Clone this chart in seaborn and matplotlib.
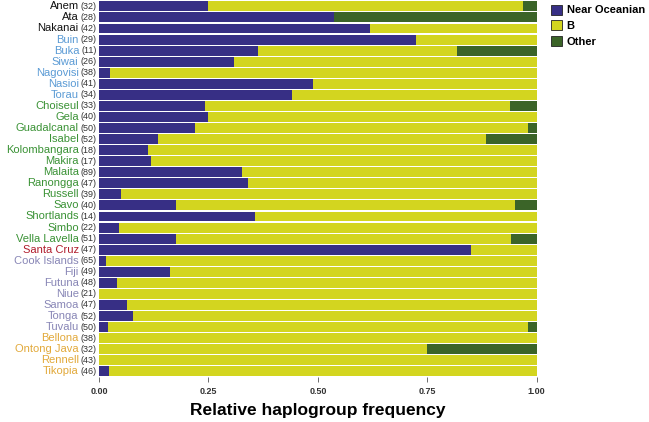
import pandas as pd
import matplotlib.pyplot as plt
from matplotlib.patches import Patch
import seaborn as sns

# populations, top to bottom
populations = ["Anem", "Ata", "Nakanai", "Buin", "Buka", "Siwai", "Nagovisi", "Nasioi",
               "Torau", "Choiseul", "Gela", "Guadalcanal", "Isabel", "Kolombangara",
               "Makira", "Malaita", "Ranongga", "Russell", "Savo", "Shortlands", "Simbo",
               "Vella Lavella", "Santa Cruz", "Cook Islands", "Fiji", "Futuna", "Niue",
               "Samoa", "Tonga", "Tuvalu", "Bellona", "Ontong Java", "Rennell", "Tikopia"]
sample_sizes = [32, 28, 42, 29, 11, 26, 38, 41, 34, 33, 40, 50, 52, 18, 17, 89, 47, 39,
                40, 14, 22, 51, 47, 65, 49, 48, 21, 47, 52, 50, 38, 32, 43, 46]
regions = ["NB", "NB", "NB", "BG", "BG", "BG", "BG", "BG", "BG",
           "SI", "SI", "SI", "SI", "SI", "SI", "SI", "SI", "SI", "SI", "SI", "SI", "SI",
           "SC", "PO", "PO", "PO", "PO", "PO", "PO", "PO", "OL", "OL", "OL", "OL"]

near_oceanian = [0.250, 0.536, 0.619, 0.724, 0.364, 0.308, 0.026, 0.488, 0.441, 0.242,
                 0.250, 0.220, 0.135, 0.111, 0.118, 0.326, 0.340, 0.051, 0.175, 0.357,
                 0.045, 0.176, 0.851, 0.015, 0.163, 0.042, 0.000, 0.064, 0.077, 0.020,
                 0.000, 0.000, 0.000, 0.022]
hg_b = [0.719, 0.000, 0.381, 0.276, 0.454, 0.692, 0.974, 0.512, 0.559, 0.697,
        0.750, 0.760, 0.750, 0.889, 0.882, 0.674, 0.660, 0.949, 0.775, 0.643,
        0.955, 0.765, 0.149, 0.985, 0.837, 0.958, 1.000, 0.936, 0.923, 0.960,
        1.000, 0.750, 1.000, 0.978]
other = [0.031, 0.464, 0.000, 0.000, 0.182, 0.000, 0.000, 0.000, 0.000, 0.061,
         0.000, 0.020, 0.115, 0.000, 0.000, 0.000, 0.000, 0.000, 0.050, 0.000,
         0.000, 0.059, 0.000, 0.000, 0.000, 0.000, 0.000, 0.000, 0.000, 0.020,
         0.000, 0.250, 0.000, 0.000]

x_ticks = [0.0, 0.25, 0.5, 0.75, 1.0]

col_no = "#372f85"
col_b = "#d3d51f"
col_other = "#3b6428"
region_colors = {"NB": "#111111", "BG": "#5b9bd5", "SI": "#3a9235",
                 "SC": "#b01c2c", "PO": "#8886b6", "OL": "#e2a93a"}

df = pd.DataFrame({"pop": populations, "no": near_oceanian, "b": hg_b, "other": other})
df["no_b"] = df["no"] + df["b"]
df["total"] = df["no_b"] + df["other"]

plt.rcParams["font.family"] = ["Liberation Sans", "DejaVu Sans"]
fig = plt.figure(figsize=(6.49, 4.22), dpi=100)
ax = fig.add_axes([0.1525, 0.107, 0.6745, 0.891])

# stacked by overdrawing cumulative sums
sns.barplot(data=df, x="total", y="pop", orient="h", color=col_other, width=0.9,
            saturation=1, ax=ax)
sns.barplot(data=df, x="no_b", y="pop", orient="h", color=col_b, width=0.9,
            saturation=1, ax=ax)
sns.barplot(data=df, x="no", y="pop", orient="h", color=col_no, width=0.9,
            saturation=1, ax=ax)
for p in ax.patches:
    p.set_linewidth(0)

ax.set_xlim(0, 1)
ax.set_xticks(x_ticks)
ax.set_xticklabels([f"{t:.2f}" for t in x_ticks], fontsize=6.5, fontweight="bold",
                   color="#333333")
ax.tick_params(axis="x", length=3.5, width=0.6, color="#555555", pad=4)
ax.set_yticks(range(len(populations)))
ax.set_yticklabels([])
ax.tick_params(axis="y", length=0)
ax.set_ylabel("")
ax.set_xlabel("Relative haplogroup frequency", fontsize=12.5, fontweight="bold",
              labelpad=5)
for s in ax.spines.values():
    s.set_visible(False)

# two-coloured y labels: name + (n)
trans = ax.get_yaxis_transform()
for i, (name, n, reg) in enumerate(zip(populations, sample_sizes, regions)):
    cnt = ax.text(-0.005, i, f"({n})", transform=trans, ha="right", va="center",
                  fontsize=6.5, color="#333333")
    ax.annotate(name, xy=(0, 0.5), xycoords=cnt, xytext=(-1.5, 0),
                textcoords="offset points", ha="right", va="center",
                fontsize=8, color=region_colors[reg])

handles = [Patch(facecolor=c, edgecolor="#222222", linewidth=0.6)
           for c in (col_no, col_b, col_other)]
fig.legend(handles, ["Near Oceanian", "B", "Other"], loc="upper left",
           bbox_to_anchor=(0.838, 1.005), frameon=False,
           prop={"weight": "bold", "size": 8}, handlelength=1.0, handleheight=1.0,
           handletextpad=0.45, labelspacing=0.45, borderaxespad=0.2)

fig.savefig("out.png", dpi=100)
